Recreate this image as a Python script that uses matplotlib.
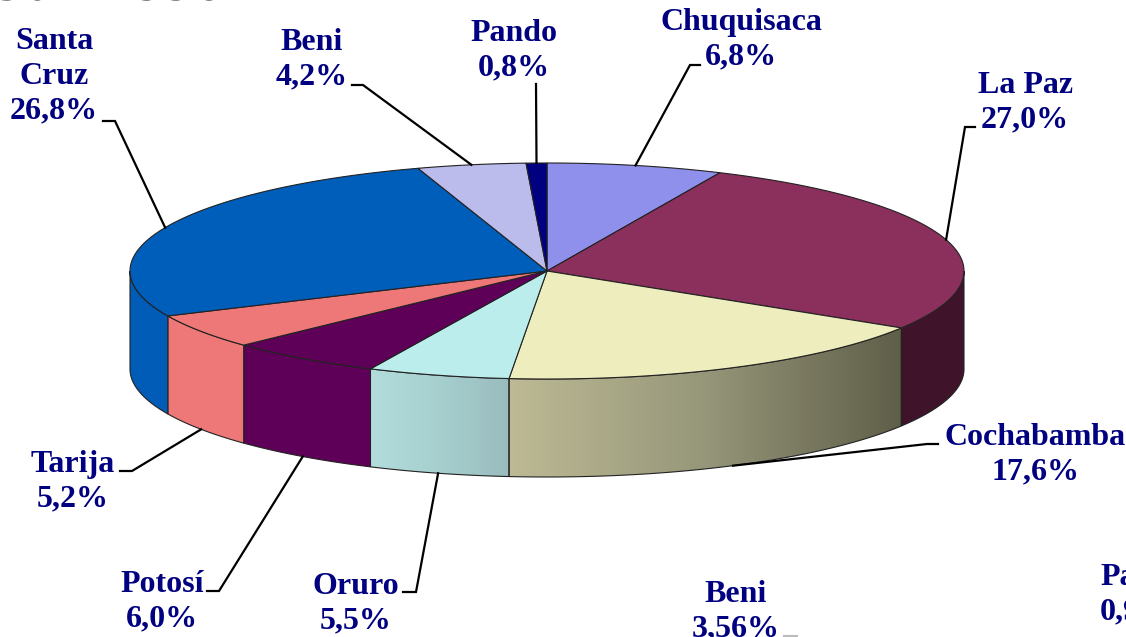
import numpy as np
import matplotlib
matplotlib.use("Agg")
import matplotlib.pyplot as plt
from matplotlib.colors import LinearSegmentedColormap
from matplotlib.patches import Polygon

departments = ["Chuquisaca", "La Paz", "Cochabamba", "Oruro", "Potosí", "Tarija", "Santa Cruz", "Beni", "Pando"]
shares = [6.8, 27.0, 17.6, 5.5, 6.0, 5.2, 26.8, 4.2, 0.8]
labels = ["Chuquisaca\n6,8%", "La Paz\n27,0%", "Cochabamba\n17,6%", "Oruro\n5,5%", "Potosí\n6,0%",
          "Tarija\n5,2%", "Santa\nCruz\n26,8%", "Beni\n4,2%", "Pando\n0,8%"]
top_colors = ["#8F8FEC", "#8B2F5C", "#EEEDBE", "#BBEDED", "#5E0058", "#EE7777", "#005EBB", "#BBBBEC", "#000080"]
side_colors = ["#8F8FEC", "#3F142B", ["#BDBA94", "#96967A", "#5F5E48"], ["#B2DDDC", "#A6CFCE", "#9ABCBE"],
               "#5E0058", "#EE7777", "#005CB6", "#BBBBEC", "#000080"]

# where the text goes (centre of the block) and the elbow of the leader line
label_pos = [(741, 40), (1025, 103), (1035, 455), (356, 604), (162, 602), (73, 482), (54, 76), (312, 60), (514, 51)]
leaders = [[(700, 65), (690, 65)], [(975, 127), (965, 127)], [(938, 444), (927, 444)], [(403, 592), (416, 592)],
           [(207, 591), (219, 591)], [(120, 471), (132, 471)], [(103, 121), (115, 121)], [(352, 85), (363, 85)],
           [(536, 84)]]
leader_on_top = [True, True, False, False, False, False, True, True, True]

cx, cy, rx, ry, depth = 547, 271, 417, 108, 98
navy = "#000080"
label_size = 23
label_space = 1.26


def arc(a0, a1, dy=0):
    # angles in degrees, clockwise from the top of the pie
    t = np.radians(np.linspace(a0, a1, 120))
    return np.column_stack([cx + rx * np.sin(t), cy - ry * np.cos(t) + dy])


fig = plt.figure(figsize=(11.26, 6.37), dpi=100)
ax = fig.add_axes([0, 0, 1, 1])
ax.axis("off")

edges = np.cumsum([0] + shares) / sum(shares) * 360

# front wall of the cake
for i in range(len(shares)):
    a0, a1 = max(edges[i], 90), min(edges[i + 1], 270)
    if a0 >= a1:
        continue
    pts = np.vstack([arc(a0, a1), arc(a1, a0, depth)])
    if isinstance(side_colors[i], list):
        cmap = LinearSegmentedColormap.from_list("side", side_colors[i])
        im = ax.imshow(np.linspace(0, 1, 256).reshape(1, -1), cmap=cmap, aspect="auto", zorder=2,
                       extent=[pts[:, 0].min(), pts[:, 0].max(), pts[:, 1].max(), pts[:, 1].min()])
        poly = Polygon(pts, closed=True, fc="none", ec="#222222", lw=0.8, zorder=3)
        ax.add_patch(poly)
        im.set_clip_path(poly)
    else:
        ax.add_patch(Polygon(pts, closed=True, fc=side_colors[i], ec="#222222", lw=0.8, zorder=3))
ax.set_xlim(0, 1126)
ax.set_ylim(637, 0)

# top face
for i in range(len(shares)):
    pts = np.vstack([[(cx, cy)], arc(edges[i], edges[i + 1])])
    ax.add_patch(Polygon(pts, closed=True, fc=top_colors[i], ec="#222222", lw=0.8, zorder=4))

# labels and leader lines
for i in range(len(shares)):
    ax.text(label_pos[i][0], label_pos[i][1], labels[i], ha="center", va="center", color=navy,
            fontsize=label_size, fontweight="bold", family="Liberation Serif", linespacing=label_space, zorder=6)
    mid = np.radians((edges[i] + edges[i + 1]) / 2)
    end = (cx + rx * np.sin(mid), cy - ry * np.cos(mid) + (0 if leader_on_top[i] else depth))
    line = np.array(leaders[i] + [end])
    ax.plot(line[:, 0], line[:, 1], color="black", lw=1.6, zorder=5, solid_joinstyle="miter")

# pieces of the next chart and the title, cut off by the frame
ax.text(736, 612, "Beni\n3,56%", ha="center", va="center", color=navy, fontsize=label_size, fontweight="bold",
        family="Liberation Serif", linespacing=label_space)
ax.plot([784, 797], [636, 636], color="#BBBBBB", lw=1.5)
ax.text(1100, 595, "Pando\n0,9%", ha="left", va="center", color=navy, fontsize=label_size, fontweight="bold",
        family="Liberation Serif", linespacing=label_space)
ax.text(-3, -1, "Jun 1996", ha="left", va="baseline", color="black", fontsize=42, fontweight="bold",
        family="Liberation Serif", clip_on=True)

fig.savefig("out.png", dpi=100)
